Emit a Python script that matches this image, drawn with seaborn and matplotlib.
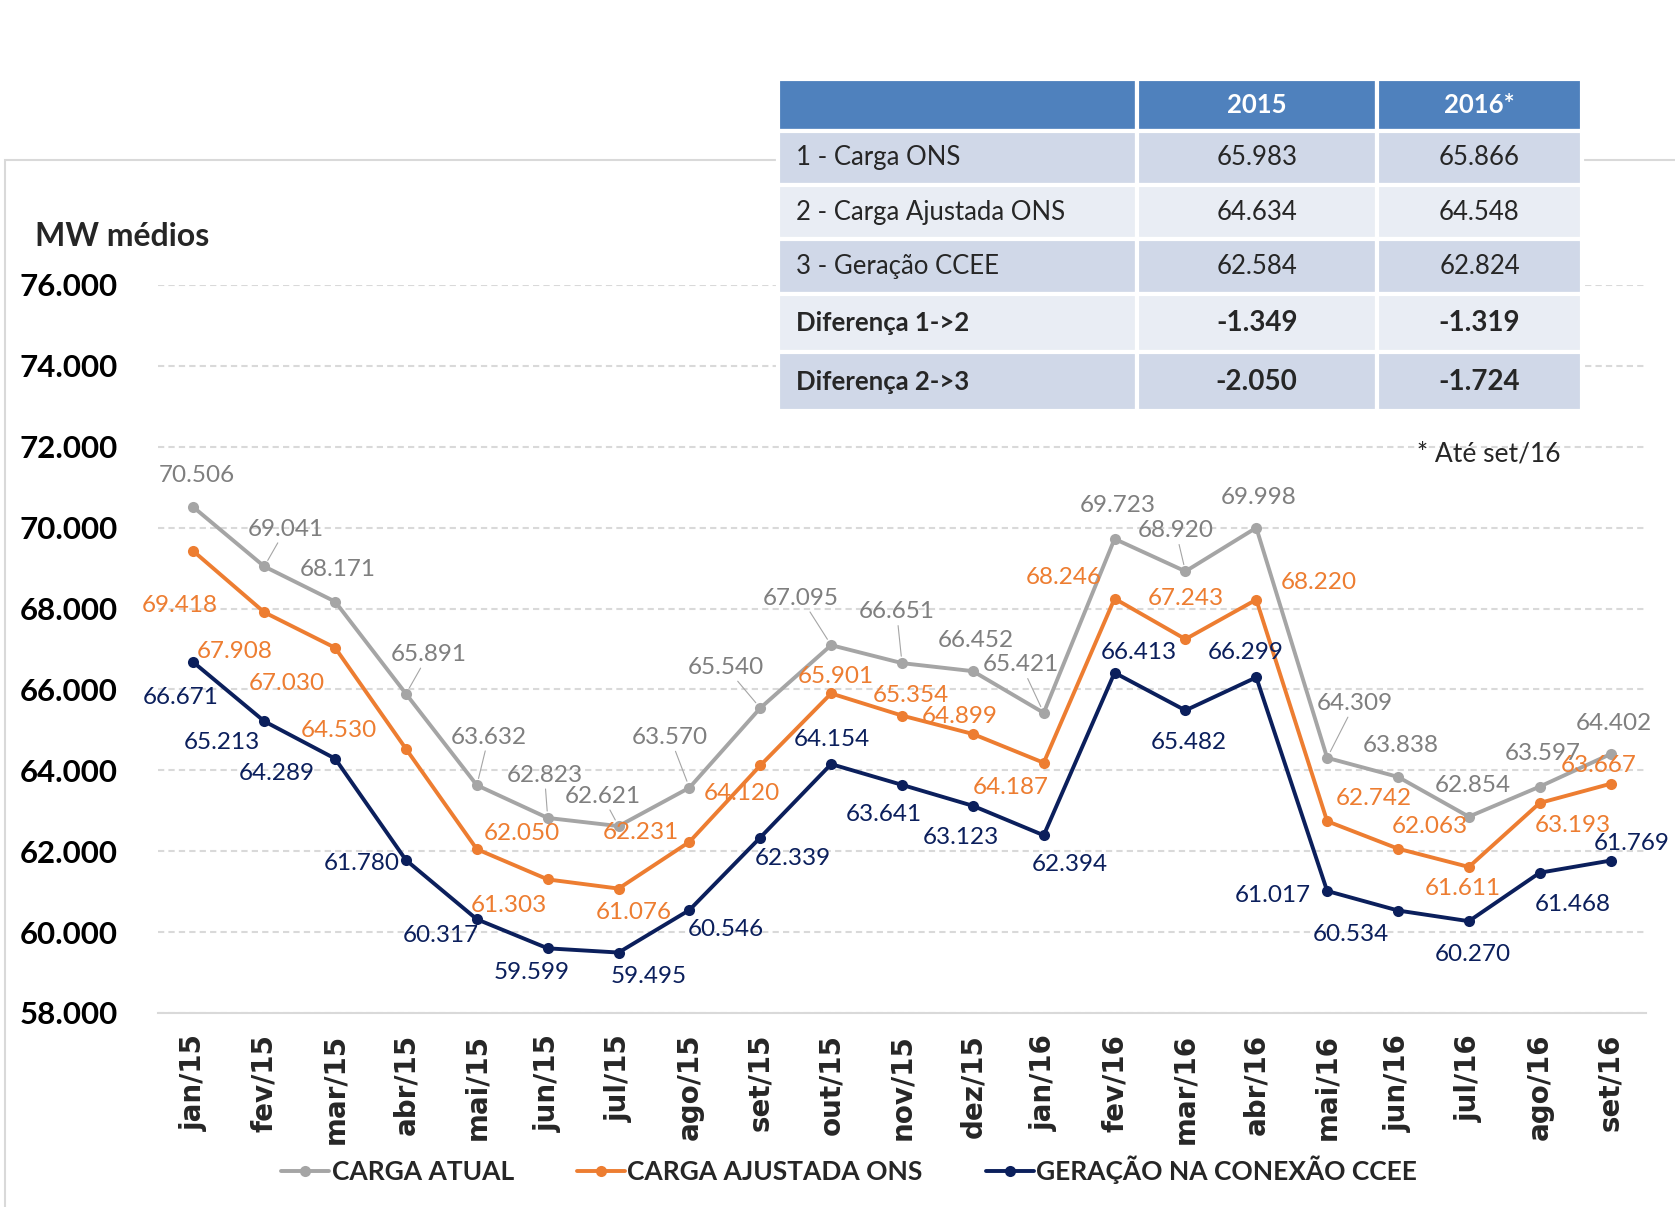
import numpy as np
import pandas as pd
import seaborn as sns
import matplotlib.pyplot as plt
from matplotlib.patches import Rectangle

# data (MW médios)
months = ["jan/15", "fev/15", "mar/15", "abr/15", "mai/15", "jun/15", "jul/15",
          "ago/15", "set/15", "out/15", "nov/15", "dez/15", "jan/16", "fev/16",
          "mar/16", "abr/16", "mai/16", "jun/16", "jul/16", "ago/16", "set/16"]
carga_atual = [70506, 69041, 68171, 65891, 63632, 62823, 62621, 63570, 65540, 67095, 66651,
               66452, 65421, 69723, 68920, 69998, 64309, 63838, 62854, 63597, 64402]
carga_ajustada = [69418, 67908, 67030, 64530, 62050, 61303, 61076, 62231, 64120, 65901, 65354,
                  64899, 64187, 68246, 67243, 68220, 62742, 62063, 61611, 63193, 63667]
geracao_ccee = [66671, 65213, 64289, 61780, 60317, 59599, 59495, 60546, 62339, 64154, 63641,
                63123, 62394, 66413, 65482, 66299, 61017, 60534, 60270, 61468, 61769]
series_names = ["CARGA ATUAL", "CARGA AJUSTADA ONS", "GERAÇÃO NA CONEXÃO CCEE"]
y_ticks = list(range(58000, 76001, 2000))

table_header = ["", "2015", "2016*"]
table_rows = ["1 - Carga ONS", "2 - Carga Ajustada ONS", "3 - Geração CCEE",
              "Diferença 1->2", "Diferença 2->3"]
table_2015 = [65983, 64634, 62584, -1349, -2050]
table_2016 = [65866, 64548, 62824, -1319, -1724]

# label offsets (px, measured on the picture; +y = down)
offs_atual = [(3, -30), (20, -35), (2, -30), (21, -37), (11, -45), (-3, -40), (-15, -28),
              (-18, -47), (-32, -38), (-28, -44), (-5, -48), (3, -29), (-21, -45), (3, -31),
              (-9, -38), (2, -28), (26, -51), (3, -29), (4, -29), (3, -31), (3, -29)]
leader_atual = [0, 1, 0, 1, 1, 1, 1, 1, 1, 1, 1, 0, 1, 0, 1, 0, 1, 0, 0, 0, 0]
offs_ajust = [(-13, 51), (-28, 37), (-45, 33), (-63, -17), (42, -15), (-36, 24), (14, 22),
              (-45, -9), (-17, 26), (4, -16), (8, -19), (-12, -16), (-31, 23), (-48, -20),
              (0, -38), (59, -16), (44, -21), (30, -21), (-6, 20), (31, 21), (-11, -17)]
offs_ger = [(-12, 33), (-40, 20), (-55, 14), (-41, 3), (-34, 15), (-15, 23), (28, 22),
            (34, 18), (30, 20), (1, -23), (-17, 28), (-11, 30), (24, 27), (23, -19),
            (3, 30), (-10, -23), (-51, 4), (-44, 22), (4, 31), (31, 30), (20, -16)]

colors = ["#A5A5A5", "#ED7D31", "#0B1F5C"]
label_colors = ["#7F7F7F", "#ED7D31", "#0B1F5C"]
FONT = ["Lato", "DejaVu Sans"]
W, H = 1675, 1207
s = W / 1568


def br(v):
    return f"{v:,.0f}".replace(",", ".")


sns.set_style("white")
plt.rcParams["font.family"] = FONT

fig = plt.figure(figsize=(W / 100, H / 100), dpi=100)
fig.patches.append(Rectangle((5 / W, -0.1), 1.2, 1.1 - 160 / H, transform=fig.transFigure,
                             fill=False, edgecolor="#D9D9D9", lw=1.5, zorder=-5))

ax = fig.add_axes([158 / W, 1 - 1013 / H, (1646 - 158) / W, (1013 - 285) / H])
ax.patch.set_alpha(0)

df = pd.DataFrame({
    "mes": np.tile(np.arange(len(months)), 3),
    "valor": carga_atual + carga_ajustada + geracao_ccee,
    "serie": np.repeat(series_names, len(months)),
})
sns.lineplot(data=df, x="mes", y="valor", hue="serie", palette=colors, marker="o",
             markersize=8, markeredgewidth=0, linewidth=2.8, ax=ax)

for k, (vals, offs) in enumerate([(carga_atual, offs_atual),
                                  (carga_ajustada, offs_ajust),
                                  (geracao_ccee, offs_ger)]):
    for i, v in enumerate(vals):
        dx, dy = offs[i]
        kw = {}
        if k == 0 and leader_atual[i]:
            kw["arrowprops"] = dict(arrowstyle="-", color="#A5A5A5", lw=0.8, shrinkA=0, shrinkB=5)
        ax.annotate(f"{v / 1000:.3f}", xy=(i, v), xytext=(dx * s, -dy * s),
                    textcoords="offset pixels", ha="center", va="center",
                    color=label_colors[k], fontsize=17.5, **kw)

ax.set_xlim(-0.5, len(months) - 0.5)
ax.set_ylim(58000, 76000)
ax.set_yticks(y_ticks)
ax.set_yticklabels([br(v) for v in y_ticks], fontsize=22.5, fontweight="bold", color="black")
ax.set_xticks(np.arange(len(months)))
ax.set_xticklabels(months, rotation=90, fontsize=20, fontweight="bold", family="DejaVu Sans")
ax.set_xticks(np.arange(-0.5, len(months)), minor=True)
ax.tick_params(axis="y", length=0, pad=29)
ax.tick_params(axis="x", which="major", length=0, pad=15)
ax.tick_params(axis="x", which="minor", length=12, color="#D9D9D9", width=1.2)
ax.set_xlabel("")
ax.set_ylabel("")
ax.yaxis.grid(True, linestyle=(0, (3, 2)), color="#D9D9D9", lw=1.5)
ax.xaxis.grid(False)
for side in ["top", "right", "left"]:
    ax.spines[side].set_visible(False)
ax.spines["bottom"].set_color("#D9D9D9")
ax.spines["bottom"].set_linewidth(1.5)

handles, labels = ax.get_legend_handles_labels()
ax.legend(handles, labels, loc="center", bbox_to_anchor=(0.507, 1 - 1170 / H),
          bbox_transform=fig.transFigure, ncol=3, frameon=False, handlelength=1.8,
          handletextpad=0.1, columnspacing=2.4,
          prop=dict(family=FONT, weight="bold", size=19))

fig.text(35 / W, 1 - 237 / H, "MW médios", ha="left", va="center", fontsize=23, fontweight="bold")
fig.text(1417 / W, 1 - 454 / H, "* Até set/16", ha="left", va="center", fontsize=19)

# summary table
ax_t = fig.add_axes([778 / W, 1 - 411 / H, (1582 - 778) / W, (411 - 79) / H])
ax_t.axis("off")
cells = [[r, br(a), br(b)] for r, a, b in zip(table_rows, table_2015, table_2016)]
tab = ax_t.table(cellText=cells, colLabels=table_header, colWidths=[0.446, 0.299, 0.255],
                 bbox=[0, 0, 1, 1])
tab.auto_set_font_size(False)
for (r, c), cell in tab.get_celld().items():
    cell.set_edgecolor("white")
    cell.set_linewidth(3)
    cell.PAD = 0.05
    txt = cell.get_text()
    txt.set_fontsize(18.5)
    if r == 0:
        cell.set_facecolor("#4F81BD")
        txt.set_color("white")
        txt.set_fontweight("bold")
        cell.set_height(0.95)
    else:
        cell.set_height(1.0 if r < 4 else 1.08)
        cell.set_facecolor("#D0D8E8" if r % 2 == 1 else "#E9EDF4")
        if r >= 4:
            txt.set_fontweight("bold")
            txt.set_fontsize(20 if c > 0 else 18.5)
    txt.set_ha("left" if c == 0 else "center")
    cell._loc = "left" if c == 0 else "center"

fig.savefig("out.png", dpi=100)
